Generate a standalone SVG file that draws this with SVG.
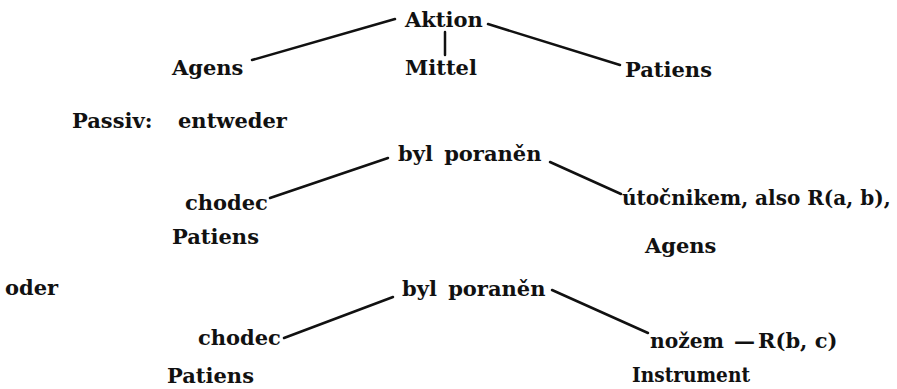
<svg xmlns="http://www.w3.org/2000/svg" width="897" height="389" viewBox="0 0 897 389">
<style>
text{font-family:'DejaVu Serif',serif;font-weight:bold;font-size:21px;fill:#111}
text.s{font-size:20px}
.c{stroke:#111;stroke-width:2.5;fill:none;stroke-linecap:round}
</style>
<rect width="897" height="389" fill="#fff"/>
<g id="connectors">
<line class="c" x1="395" y1="19" x2="252" y2="60"/>
<line class="c" x1="445" y1="32" x2="445" y2="55"/>
<line class="c" x1="488" y1="24" x2="620" y2="65"/>
<line class="c" x1="388" y1="158" x2="270" y2="198"/>
<line class="c" x1="550" y1="162" x2="621" y2="194"/>
<line class="c" x1="393" y1="297" x2="284" y2="338"/>
<line class="c" x1="552" y1="290" x2="648" y2="333"/>
</g>
<g id="aktion"><text x="405" y="27">Aktion</text></g>
<g id="agens1"><text x="172" y="75">Agens</text></g>
<g id="mittel"><text x="405" y="75">Mittel</text></g>
<g id="patiens1"><text x="625" y="77">Patiens</text></g>
<g id="passiv"><text x="72" y="128">Passiv:<tspan x="178">entweder</tspan></text></g>
<g id="byl1"><text x="398" y="161" word-spacing="4">byl poraněn</text></g>
<g id="chodec1"><text x="185" y="210">chodec</text></g>
<g id="patiens2"><text x="172" y="244">Patiens</text></g>
<g id="utocnikem"><text class="s" x="622" y="205">útočnikem, also R(a, b),</text></g>
<g id="agens2"><text x="645" y="253">Agens</text></g>
<g id="oder"><text x="5" y="295">oder</text></g>
<g id="byl2"><text x="402" y="296" word-spacing="4">byl poraněn</text></g>
<g id="chodec2"><text x="198" y="345">chodec</text></g>
<g id="patiens3"><text x="167" y="383">Patiens</text></g>
<g id="nozem"><text x="650" y="348"><tspan textLength="74" lengthAdjust="spacingAndGlyphs">nožem</tspan><tspan x="734">—</tspan><tspan x="758">R(b, c)</tspan></text></g>
<g id="instrument"><text x="632" y="382" textLength="118" lengthAdjust="spacingAndGlyphs">Instrument</text></g>
</svg>
